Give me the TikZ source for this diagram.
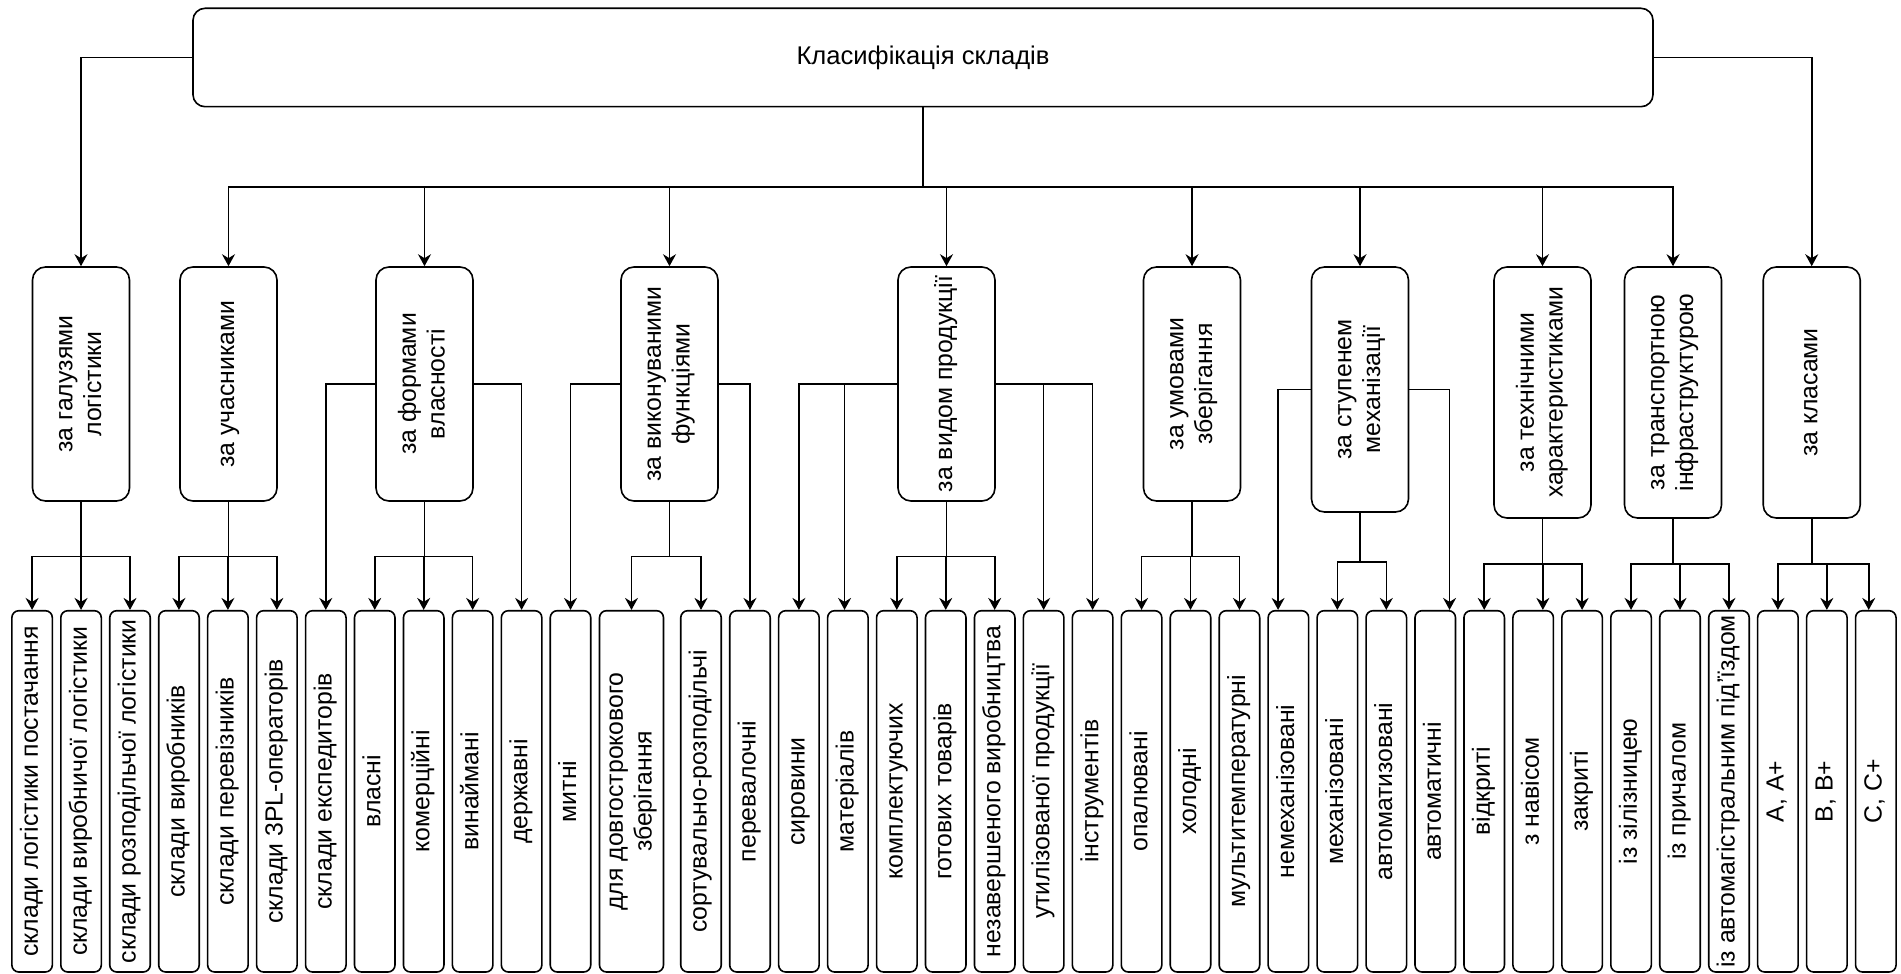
\documentclass[tikz,border=0pt]{standalone}
\usepackage{fontspec}
\setmainfont{Liberation Sans}
\usetikzlibrary{arrows.meta,calc}
\newcommand{\vtext}[1]{\rotatebox{90}{\begin{tabular}{@{}c@{}}#1\end{tabular}}}
\begin{document}
\begin{tikzpicture}[x=0.5pt,y=-0.5pt,
  line width=0.8pt,
  lbl/.style={font=\fontsize{12.4}{14.3}\selectfont},
  topbox/.style={draw, lbl, rounded corners=6pt, inner sep=0pt, minimum width=730pt, minimum height=49.2pt},
  catbox/.style={draw, lbl, rounded corners=6.5pt, inner sep=0pt, minimum width=48.5pt},
  leafbox/.style={draw, lbl, rounded corners=3.5pt, inner sep=0pt, minimum width=20.25pt, minimum height=180.65pt},
  arr/.style={-{Stealth[length=6pt,width=6.5pt,inset=2pt]}}
]
\useasboundingbox (0,0) rectangle (1901,974);

% root
\node[topbox, font=\fontsize{12.8}{14.3}\selectfont] (top) at (923,57.5) {Класифікація складів};

% categories
\node[catbox, minimum height=117pt] (c1) at (81,384) {\vtext{за галузями\\логістики}};
\node[catbox, minimum height=117pt] (c2) at (228.5,384) {\vtext{за учасниками}};
\node[catbox, minimum height=117pt] (c3) at (424.5,384) {\vtext{за формами\\власності}};
\node[catbox, minimum height=117pt] (c4) at (669.5,384) {\vtext{за виконуваними\\функціями}};
\node[catbox, minimum height=117pt] (c5) at (946.5,384) {\vtext{за видом продукції}};
\node[catbox, minimum height=117pt] (c6) at (1192,384) {\vtext{за умовами\\зберігання}};
\node[catbox, minimum height=122.5pt] (c7) at (1360,389.5) {\vtext{за ступенем\\механізації}};
\node[catbox, minimum height=125.5pt] (c8) at (1542.5,392.5) {\vtext{за технічними\\характеристиками}};
\node[catbox, minimum height=125.5pt] (c9) at (1673,392.5) {\vtext{за транспортною\\інфраструктурою}};
\node[catbox, minimum height=125.5pt] (c10) at (1811.7,392.5) {\vtext{за класами}};

% leaves
\node[leafbox] (l1) at (32.1,791.35) {\vtext{склади логістики постачання}};
\node[leafbox] (l2) at (81.05,791.35) {\vtext{склади виробничої логістики}};
\node[leafbox] (l3) at (130,791.35) {\vtext{склади розподільчої логістики}};
\node[leafbox] (l4) at (178.95,791.35) {\vtext{склади виробників}};
\node[leafbox] (l5) at (227.9,791.35) {\vtext{склади перевізників}};
\node[leafbox] (l6) at (276.85,791.35) {\vtext{склади 3PL-операторів}};
\node[leafbox] (l7) at (325.8,791.35) {\vtext{склади експедиторів}};
\node[leafbox] (l8) at (374.75,791.35) {\vtext{власні}};
\node[leafbox] (l9) at (423.7,791.35) {\vtext{комерційні}};
\node[leafbox] (l10) at (472.65,791.35) {\vtext{винаймані}};
\node[leafbox] (l11) at (521.6,791.35) {\vtext{державні}};
\node[leafbox] (l12) at (570.5,791.35) {\vtext{митні}};
\node[leafbox, minimum width=32pt] (l13) at (631.5,791.35) {\vtext{для довгострокового\\зберігання}};
\node[leafbox] (l14) at (701,791.35) {\vtext{сортувально-розподільчі}};
\node[leafbox] (l15) at (749.95,791.35) {\vtext{перевалочні}};
\node[leafbox] (l16) at (798.9,791.35) {\vtext{сировини}};
\node[leafbox] (l17) at (847.85,791.35) {\vtext{матеріалів}};
\node[leafbox] (l18) at (896.8,791.35) {\vtext{комплектуючих}};
\node[leafbox] (l19) at (945.75,791.35) {\vtext{готових товарів}};
\node[leafbox] (l20) at (994.7,791.35) {\vtext{незавершеного виробництва}};
\node[leafbox] (l21) at (1043.65,791.35) {\vtext{утилізованої продукції}};
\node[leafbox] (l22) at (1092.6,791.35) {\vtext{інструментів}};
\node[leafbox] (l23) at (1141.55,791.35) {\vtext{опалювані}};
\node[leafbox] (l24) at (1190.5,791.35) {\vtext{холодні}};
\node[leafbox] (l25) at (1239.45,791.35) {\vtext{мультитемпературні}};
\node[leafbox] (l26) at (1288.4,791.35) {\vtext{немеханізовані}};
\node[leafbox] (l27) at (1337.35,791.35) {\vtext{механізовані}};
\node[leafbox] (l28) at (1386.3,791.35) {\vtext{автоматизовані}};
\node[leafbox] (l29) at (1435.25,791.35) {\vtext{автоматичні}};
\node[leafbox] (l30) at (1484.2,791.35) {\vtext{відкриті}};
\node[leafbox] (l31) at (1533.15,791.35) {\vtext{з навісом}};
\node[leafbox] (l32) at (1582.1,791.35) {\vtext{закриті}};
\node[leafbox] (l33) at (1631.05,791.35) {\vtext{із зілізницею}};
\node[leafbox] (l34) at (1680,791.35) {\vtext{із причалом}};
\node[leafbox] (l35) at (1728.95,791.35) {\vtext{із автомагістральним під'їздом}};
\node[leafbox] (l36) at (1777.9,791.35) {\vtext{A, A+}};
\node[leafbox] (l37) at (1826.85,791.35) {\vtext{B, B+}};
\node[leafbox] (l38) at (1875.8,791.35) {\vtext{C, C+}};

% root to categories
\path (top.south) ++(0,79.7) coordinate (hub);
\draw (top.south) -- (hub);
\foreach \c in {c2,c3,c4,c5,c6,c7,c8,c9} \draw[arr] (hub) -| (\c.north);
\draw[arr] (top.west) -| (c1.north);
\draw[arr] (top.east) -| (c10.north);

% sub-bars
\path (c1.south) ++(0,54.7) coordinate (s1);
\path (c2.south) ++(0,54.7) coordinate (s2);
\path (c3.south) ++(0,54.7) coordinate (s3);
\path (c4.south) ++(0,54.7) coordinate (s4);
\path (c5.south) ++(0,54.7) coordinate (s5);
\path (c6.south) ++(0,54.7) coordinate (s6);
\path (c7.south) ++(0,49) coordinate (s7);
\path (c8.south) ++(0,45.3) coordinate (s8);
\path (c9.south) ++(0,45.3) coordinate (s9);
\path (c10.south) ++(0,45.3) coordinate (s10);
\foreach \i in {1,...,10} \draw (c\i.south) -- (s\i);

\foreach \l in {l1,l2,l3} \draw[arr] (s1) -| (\l.north);
\foreach \l in {l4,l5,l6} \draw[arr] (s2) -| (\l.north);
\foreach \l in {l8,l9,l10} \draw[arr] (s3) -| (\l.north);
\foreach \l in {l13,l14} \draw[arr] (s4) -| (\l.north);
\foreach \l in {l18,l19,l20} \draw[arr] (s5) -| (\l.north);
\foreach \l in {l23,l24,l25} \draw[arr] (s6) -| (\l.north);
\foreach \l in {l27,l28} \draw[arr] (s7) -| (\l.north);
\draw[arr] (s8) -| (l30.north);
\draw[arr] (s8) -| ([xshift=4.85pt]l31.north);
\draw[arr] (s8) -| (l32.north);
\foreach \l in {l33,l34,l35} \draw[arr] (s9) -| (\l.north);
\draw[arr] (s10) -| (l36.north);
\draw[arr] (s10) -| (l37.north);
\draw[arr] (s10) -| ([xshift=-3.55pt]l38.north);

% side branches
\draw[arr] (c3.west) -| (l7.north);
\draw[arr] (c3.east) -| (l11.north);
\draw[arr] (c4.west) -| (l12.north);
\draw[arr] (c4.east) -| (l15.north);
\draw[arr] (c5.west) -| (l16.north);
\draw[arr] (c5.west) -| ([xshift=-1.65pt]l17.north);
\draw[arr] (c5.east) -| (l21.north);
\draw[arr] (c5.east) -| (l22.north);
\draw[arr] (c7.west) -| ([xshift=-5.15pt]l26.north);
\draw[arr] (c7.east) -| ([xshift=7.15pt]l29.north);
\end{tikzpicture}
\end{document}
